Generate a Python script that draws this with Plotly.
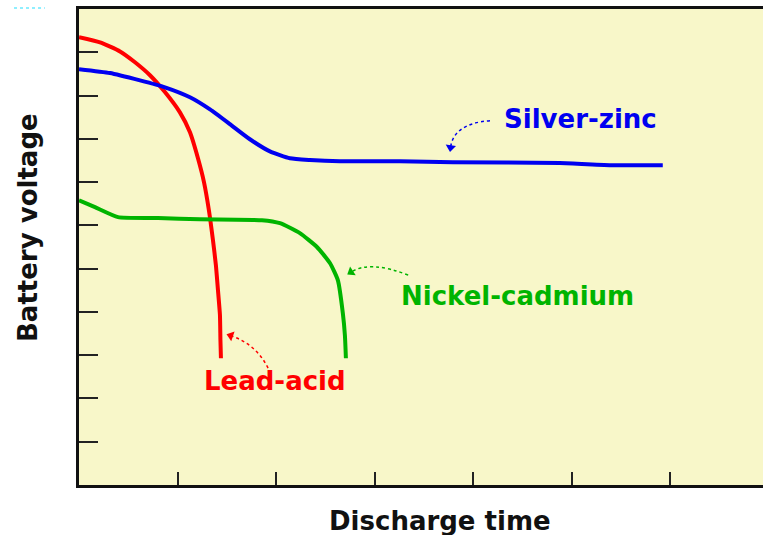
import math
import plotly.graph_objects as go

# ---- data ----
lead_x = [0, 0.213, 0.416, 0.568, 0.720, 0.872, 1.024, 1.126, 1.207, 1.268, 1.318, 1.359, 1.389, 1.410, 1.430, 1.435, 1.440]
lead_y = [10.35, 10.23, 10.02, 9.77, 9.47, 9.08, 8.61, 8.15, 7.55, 7.00, 6.35, 5.66, 5.08, 4.50, 3.93, 3.35, 2.93]

silver_x = [0, 0.314, 0.619, 0.872, 1.126, 1.329, 1.531, 1.734, 1.937, 2.140, 2.343, 2.647, 3.256, 3.793, 4.878, 5.416, 5.923]
silver_y = [9.61, 9.52, 9.35, 9.19, 8.96, 8.68, 8.34, 7.99, 7.71, 7.55, 7.51, 7.48, 7.48, 7.46, 7.44, 7.39, 7.39]

nicad_x = [0, 0.162, 0.396, 0.801, 1.227, 1.856, 2.039, 2.241, 2.414, 2.546, 2.627, 2.677, 2.698, 2.708]
nicad_y = [6.58, 6.42, 6.19, 6.17, 6.14, 6.12, 6.05, 5.82, 5.50, 5.13, 4.73, 3.97, 3.46, 2.93]

x_ticks = [1, 2, 3, 4, 5, 6]
y_ticks = [1, 2, 3, 4, 5, 6, 7, 8, 9, 10]

labels = ["Silver-zinc", "Nickel-cadmium", "Lead-acid"]
label_x = [5.09, 4.45, 1.99]
label_y = [8.45, 4.36, 2.40]

# arrow (start, control, head) for each label
arrow_start = [(4.17, 8.42), (3.34, 4.85), (1.918, 2.70)]
arrow_ctrl = [(3.80, 8.35), (2.95, 5.20), (1.80, 3.25)]
arrow_head = [(3.77, 7.80), (2.76, 4.92), (1.54, 3.45)]

colors = ["#0000F0", "#00B400", "#FF0000"]
BG = "#F8F7C9"
FONT = "DejaVu Sans"

X_RANGE = [0, 6.94]
Y_RANGE = [0, 11]
W, H = 763, 535
M = dict(l=79, r=0, t=9, b=50)
px_per_x = (W - M["l"] - M["r"]) / (X_RANGE[1] - X_RANGE[0])
px_per_y = (H - M["t"] - M["b"]) / (Y_RANGE[1] - Y_RANGE[0])

fig = go.Figure()
for xs, ys, c in [(lead_x, lead_y, colors[2]), (silver_x, silver_y, colors[0]), (nicad_x, nicad_y, colors[1])]:
    fig.add_trace(go.Scatter(x=xs, y=ys, mode="lines", line=dict(color=c, width=4, shape="spline", smoothing=0.5),
                             hoverinfo="skip", showlegend=False))

for i, t in enumerate(labels):
    fig.add_annotation(x=label_x[i], y=label_y[i], text=f"<b>{t}</b>", showarrow=False,
                       xanchor="center", yanchor="middle",
                       font=dict(family=FONT, size=26, color=colors[i]))
    (sx, sy), (cx, cy), (hx, hy) = arrow_start[i], arrow_ctrl[i], arrow_head[i]
    fig.add_shape(type="path", xref="x", yref="y",
                  path=f"M {sx},{sy} Q {cx},{cy} {hx},{hy}",
                  line=dict(color=colors[i], width=1.5, dash="dot"))
    # arrow head: triangle marker rotated along the curve tangent at the end
    ux = (hx - cx) * px_per_x
    uy = -(hy - cy) * px_per_y
    ang = math.degrees(math.atan2(ux, -uy))
    fig.add_trace(go.Scatter(x=[hx], y=[hy], mode="markers", hoverinfo="skip", showlegend=False,
                             marker=dict(symbol="triangle-up", size=9, angle=ang, color=colors[i],
                                         line=dict(width=0))))

# axis titles
fig.add_annotation(xref="paper", yref="paper", x=-0.0746, y=0.542, text="<b>Battery voltage</b>",
                   xanchor="center", yanchor="middle",
                   textangle=-90, showarrow=False, font=dict(family=FONT, size=26, color="#111111"))
fig.add_annotation(xref="paper", yref="paper", x=0.528, y=-0.0756, text="<b>Discharge time</b>",
                   xanchor="center", yanchor="middle",
                   showarrow=False, font=dict(family=FONT, size=26, color="#111111"))

# small cyan dotted mark at top-left
fig.add_shape(type="line", xref="paper", yref="paper", x0=-0.095, x1=-0.05, y0=1.002, y1=1.002,
              line=dict(color="#8FEFFF", width=2, dash="dot"))

fig.update_layout(
    width=W, height=H,
    margin=M,
    paper_bgcolor="white", plot_bgcolor=BG,
    font=dict(family=FONT),
    xaxis=dict(range=X_RANGE, tickvals=x_ticks, ticks="inside", ticklen=13, tickwidth=2, tickcolor="#222",
               showticklabels=False, showgrid=False, zeroline=False,
               showline=True, linecolor="#111", linewidth=3, mirror=True, fixedrange=True),
    yaxis=dict(range=Y_RANGE, tickvals=y_ticks, ticks="inside", ticklen=19, tickwidth=2, tickcolor="#222",
               showticklabels=False, showgrid=False, zeroline=False,
               showline=True, linecolor="#111", linewidth=3, fixedrange=True),
)

fig.write_html("out.html", config={"displayModeBar": False},
               post_script="document.body.style.margin='0';document.body.style.overflow='hidden';")
